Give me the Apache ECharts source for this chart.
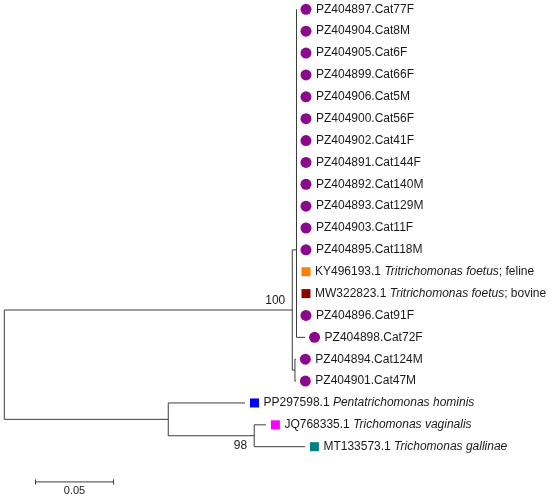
<!DOCTYPE html>
<html>
<head>
<meta charset="utf-8">
<script src="https://cdn.jsdelivr.net/npm/echarts@6/dist/echarts.min.js"></script>
<style>
html, body { margin: 0; padding: 0; background: #fff; }
#chart { width: 550px; height: 498px; }
</style>
</head>
<body>
<div id="chart"></div>
<script>
// tips, top to bottom (row = index)
const tipIds = [
    'PZ404897.Cat77F', 'PZ404904.Cat8M', 'PZ404905.Cat6F', 'PZ404899.Cat66F',
    'PZ404906.Cat5M', 'PZ404900.Cat56F', 'PZ404902.Cat41F', 'PZ404891.Cat144F',
    'PZ404892.Cat140M', 'PZ404893.Cat129M', 'PZ404903.Cat11F', 'PZ404895.Cat118M',
    'KY496193.1', 'MW322823.1', 'PZ404896.Cat91F', 'PZ404898.Cat72F',
    'PZ404894.Cat124M', 'PZ404901.Cat47M', 'PP297598.1', 'JQ768335.1', 'MT133573.1'
];
const tipSpecies = [
    '', '', '', '', '', '', '', '', '', '', '', '',
    'Tritrichomonas foetus', 'Tritrichomonas foetus', '', '', '', '',
    'Pentatrichomonas hominis', 'Trichomonas vaginalis', 'Trichomonas gallinae'
];
const tipHost = [
    '', '', '', '', '', '', '', '', '', '', '', '',
    'feline', 'bovine', '', '', '', '', '', '', ''
];
const tipGroup = [
    'cat', 'cat', 'cat', 'cat', 'cat', 'cat', 'cat', 'cat', 'cat', 'cat', 'cat', 'cat',
    'tfFeline', 'tfBovine', 'cat', 'cat', 'cat', 'cat', 'ph', 'tv', 'tg'
];

// tree: nodes 0..20 are tips, 21..27 internal (21 = root)
const nodeParent = [
    24, 24, 24, 24, 24, 24, 24, 24, 24, 24, 24, 24, 24, 24, 24,
    23, 25, 25, 26, 27, 27,
    -1, 21, 22, 23, 22, 21, 26
];
const branchLength = [
    0, 0, 0, 0, 0, 0, 0, 0, 0, 0, 0, 0, 0, 0, 0,
    0.0055, 0.0006, 0.0006, 0.0492, 0.0075, 0.0325,
    0, 0.1846, 0.0027, 0, 0.0017, 0.1051, 0.0551
];
const bootstrapNode = [22, 27];
const bootstrapValue = ['100', '98'];

const scaleBarStart = 0.02;
const scaleBarLength = 0.05;
const scaleBarLabel = '0.05';

// 样式
const lineColor = '#3c3c3c';
const textColor = '#1a1a1a';
const fontFamily = "'Liberation Sans', Arial, sans-serif";
const groupStyle = {
    cat: { shape: 'circle', color: '#8b0a8b' },
    tfFeline: { shape: 'rect', color: '#ff8000' },
    tfBovine: { shape: 'rect', color: '#8b0000' },
    ph: { shape: 'rect', color: '#0000ff' },
    tv: { shape: 'rect', color: '#ff00ff' },
    tg: { shape: 'rect', color: '#008080' }
};
const bootstrapOffset = { 22: [-7, -9], 27: [-7, 10] };

// layout: x = distance from root, y = row
const nTips = tipIds.length;
const nodeCount = nodeParent.length;
const children = nodeParent.map(() => []);
nodeParent.forEach((p, i) => { if (p >= 0) children[p].push(i); });

const nodeX = new Array(nodeCount).fill(0);
const nodeY = new Array(nodeCount).fill(0);
function place(i, x) {
    nodeX[i] = x;
    if (i < nTips) { nodeY[i] = i; return; }
    children[i].forEach(c => place(c, x + branchLength[c]));
    const ys = children[i].map(c => nodeY[c]);
    nodeY[i] = (Math.min(...ys) + Math.max(...ys)) / 2;
}
const root = nodeParent.indexOf(-1);
place(root, 0);

const segments = [];
for (let i = 0; i < nodeCount; i++) {
    const p = nodeParent[i];
    if (p >= 0) segments.push([nodeX[p], nodeY[i], nodeX[i], nodeY[i]]);
    if (children[i].length) {
        const ys = children[i].map(c => nodeY[c]);
        segments.push([nodeX[i], Math.min(...ys), nodeX[i], Math.max(...ys)]);
    }
}

const tipData = tipIds.map((id, i) => [nodeX[i], nodeY[i], i]);
const bootData = bootstrapNode.map((n, k) => [nodeX[n], nodeY[n], k]);

function tipLabel(i) {
    if (!tipSpecies[i]) return '{n|' + tipIds[i] + '}';
    let s = '{n|' + tipIds[i] + ' }{i|' + tipSpecies[i] + '}';
    if (tipHost[i]) s += '{n|; ' + tipHost[i] + '}';
    return s;
}

const chart = echarts.init(document.getElementById('chart'));
chart.setOption({
    animation: false,
    grid: { left: 4.3, top: 9.3, width: 468, height: 22 * 21.87 },
    xAxis: { type: 'value', min: 0, max: 0.3, show: false },
    yAxis: { type: 'value', min: 0, max: 22, inverse: true, show: false },
    series: [
        {
            type: 'custom',
            clip: false,
            data: segments,
            renderItem: function (params, api) {
                const a = api.coord([api.value(0), api.value(1)]);
                const b = api.coord([api.value(2), api.value(3)]);
                return {
                    type: 'line',
                    shape: { x1: a[0], y1: a[1], x2: b[0], y2: b[1] },
                    style: { stroke: lineColor, lineWidth: 1 }
                };
            }
        },
        {
            type: 'custom',
            clip: false,
            data: tipData,
            renderItem: function (params, api) {
                const p = api.coord([api.value(0), api.value(1)]);
                const i = api.value(2);
                const st = groupStyle[tipGroup[i]];
                let mark, right;
                if (st.shape === 'circle') {
                    mark = { type: 'circle', shape: { cx: p[0] + 9.5, cy: p[1], r: 5.5 }, style: { fill: st.color } };
                    right = p[0] + 15;
                } else {
                    mark = { type: 'rect', shape: { x: p[0] + 5, y: p[1] - 4.5, width: 9, height: 9 }, style: { fill: st.color } };
                    right = p[0] + 14;
                }
                return {
                    type: 'group',
                    children: [mark, {
                        type: 'text',
                        style: {
                            x: right + 4.5, y: p[1],
                            text: tipLabel(i),
                            verticalAlign: 'middle',
                            align: 'left',
                            rich: {
                                n: { fontSize: 12, fontFamily: fontFamily, fill: textColor, color: textColor },
                                i: { fontSize: 12, fontFamily: fontFamily, fontStyle: 'italic', fill: textColor, color: textColor }
                            }
                        }
                    }]
                };
            }
        },
        {
            type: 'custom',
            clip: false,
            data: bootData,
            renderItem: function (params, api) {
                const p = api.coord([api.value(0), api.value(1)]);
                const k = api.value(2);
                const off = bootstrapOffset[bootstrapNode[k]];
                return {
                    type: 'text',
                    style: {
                        x: p[0] + off[0], y: p[1] + off[1],
                        text: bootstrapValue[k],
                        align: 'right', verticalAlign: 'middle',
                        fontSize: 12, fontFamily: fontFamily, fill: textColor
                    }
                };
            }
        },
        {
            type: 'custom',
            clip: false,
            data: [[scaleBarStart, 21.61, scaleBarStart + scaleBarLength]],
            renderItem: function (params, api) {
                const a = api.coord([api.value(0), api.value(1)]);
                const b = api.coord([api.value(2), api.value(1)]);
                const st = { stroke: lineColor, lineWidth: 1 };
                return {
                    type: 'group',
                    children: [
                        { type: 'line', shape: { x1: a[0], y1: a[1], x2: b[0], y2: b[1] }, style: st },
                        { type: 'line', shape: { x1: a[0], y1: a[1] - 2.5, x2: a[0], y2: a[1] + 2.5 }, style: st },
                        { type: 'line', shape: { x1: b[0], y1: b[1] - 2.5, x2: b[0], y2: b[1] + 2.5 }, style: st },
                        {
                            type: 'text',
                            style: {
                                x: (a[0] + b[0]) / 2, y: a[1] + 9,
                                text: scaleBarLabel, align: 'center', verticalAlign: 'middle',
                                fontSize: 11, fontFamily: fontFamily, fill: textColor
                            }
                        }
                    ]
                };
            }
        }
    ]
});
</script>
</body>
</html>
